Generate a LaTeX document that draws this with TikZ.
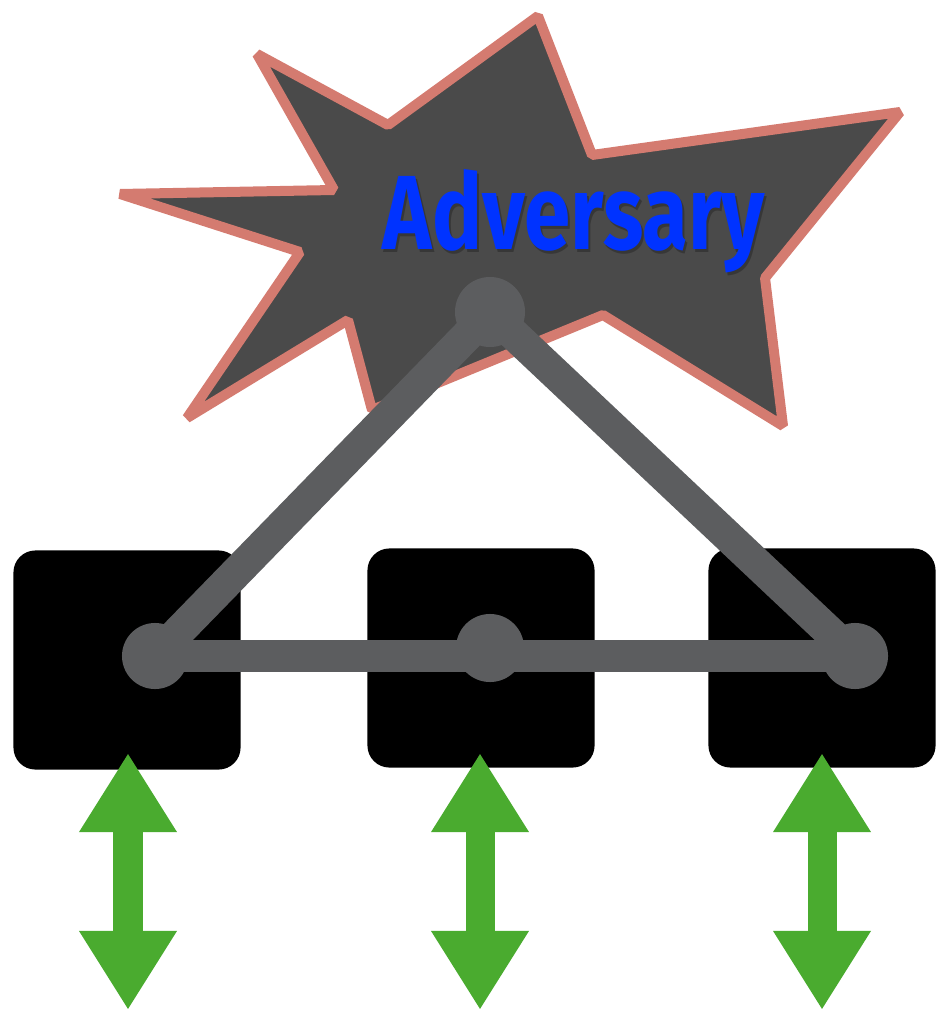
\documentclass[tikz,border=0pt]{standalone}
\usepackage{fontspec}
\usepackage{graphicx}
\newfontfamily\advfont{Fira Sans}
\usetikzlibrary{arrows.meta}
\definecolor{starfill}{HTML}{4A4A4A}
\definecolor{stardraw}{HTML}{D47B70}
\definecolor{linkgray}{HTML}{5C5D5F}
\definecolor{advblue}{HTML}{0033FF}
\definecolor{arrowgreen}{HTML}{4AAB2F}
\tikzset{
  px/.style={x=0.01cm,y=-0.01cm},
  party/.style={fill=black, rounded corners=0.22cm, minimum width=2.27cm, minimum height=2.19cm, inner sep=0pt},
  dot/.style={circle, fill=linkgray, minimum size=0.66cm, inner sep=0pt},
  link/.style={draw=linkgray, line width=0.32cm, line cap=round},
  io/.style={draw=arrowgreen, line width=0.29cm, {Triangle[length=0.79cm,width=0.92cm]}-{Triangle[length=0.79cm,width=0.92cm]}, arrowgreen}
}
\begin{document}
\begin{tikzpicture}[px]
\useasboundingbox (0,0) rectangle (935,1013);
% adversary star
\draw[fill=starfill, draw=stardraw, line width=0.1cm, line join=bevel]
  (538,16) -- (592,155) -- (900,112) -- (765,278) -- (783,426) -- (603,315)
  -- (372,410) -- (348,320) -- (187,418) -- (300,252) -- (120,194) -- (334,190)
  -- (257,54) -- (388,125) -- cycle;
\node[anchor=base, text=black, opacity=0.25] at (576,253)
  {\resizebox{3.82cm}{0.8cm}{\advfont\bfseries Adversary}};
\node[anchor=base, text=advblue] (adv) at (574,250)
  {\resizebox{3.82cm}{0.8cm}{\advfont\bfseries Adversary}};
% parties
\node[party] (b1) at (127,660) {};
\node[party] (b2) at (481,658) {};
\node[party] (b3) at (822,658) {};
% link nodes
\coordinate (tc) at (490,312);
\coordinate (lc) at (155,656);
\coordinate (mc) at (490,648);
\coordinate (rc) at (855,656);
\draw[link] (tc) -- (lc);
\draw[link] (tc) -- (rc);
\draw[link, line cap=butt] (lc) -- (rc);
\node[dot, minimum size=0.7cm] (t) at (tc) {};
\node[dot] (l) at (lc) {};
\node[dot, minimum width=0.64cm, minimum height=0.68cm] (m) at (mc) {};
\node[dot] (r) at (rc) {};
% io arrows
\coordinate (a1t) at (128,753); \coordinate (a1b) at (128,1010);
\coordinate (a2t) at (480,753); \coordinate (a2b) at (480,1010);
\coordinate (a3t) at (822,753); \coordinate (a3b) at (822,1010);
\draw[io] (a1t) -- (a1b);
\draw[io] (a2t) -- (a2b);
\draw[io] (a3t) -- (a3b);
\end{tikzpicture}
\end{document}
